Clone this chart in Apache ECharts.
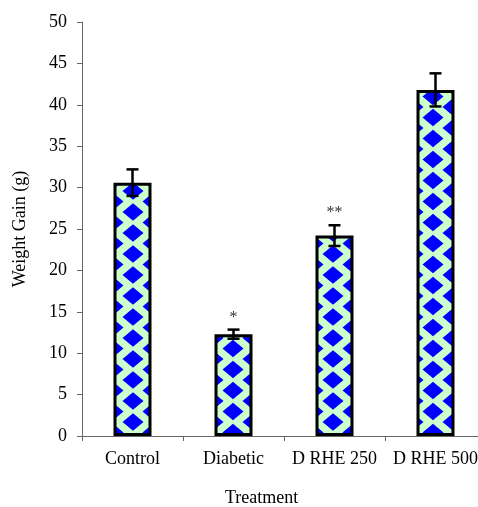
<!DOCTYPE html>
<html><head><meta charset="utf-8">
<script src="https://cdn.jsdelivr.net/npm/echarts@6/dist/echarts.min.js"></script>
<style>html,body{margin:0;padding:0;background:#fff}#c{width:478px;height:507px}</style>
</head><body><div id="c"></div>
<script>
const categories = ["Control", "Diabetic", "D RHE 250", "D RHE 500"];
const values = [30.6, 12.3, 24.2, 41.8];
const errors = [1.6, 0.55, 1.25, 2.0];
const significance = ["", "*", "**", ""];
const yTicks = { min: 0, max: 50, interval: 5 };

// staggered columns of blue diamonds on light green (slightly blurred), tile w x h
function makePattern() {
  const w = 40, h = 21;
  const big = document.createElement('canvas');
  big.width = w * 3; big.height = h * 3;
  const b = big.getContext('2d');
  b.fillStyle = '#ccffcc';
  b.fillRect(0, 0, big.width, big.height);
  b.fillStyle = '#0000ff';
  const rx = 10.5, ry = 8.8;
  const centers = [[13, 2], [33, 12.5]];
  for (const [cx, cy] of centers) {
    for (let i = -1; i <= 3; i++) for (let j = -1; j <= 3; j++) {
      const x = cx + i * w, y = cy + j * h;
      b.beginPath();
      b.moveTo(x, y - ry); b.lineTo(x + rx, y); b.lineTo(x, y + ry); b.lineTo(x - rx, y);
      b.closePath(); b.fill();
    }
  }
  const blurred = document.createElement('canvas');
  blurred.width = big.width; blurred.height = big.height;
  const bb = blurred.getContext('2d');
  bb.filter = 'blur(0.6px)';
  bb.drawImage(big, 0, 0);
  const c = document.createElement('canvas');
  c.width = w; c.height = h;
  c.getContext('2d').drawImage(blurred, w, h, w, h, 0, 0, w, h);
  return c;
}

const chart = echarts.init(document.getElementById('c'), null, { renderer: 'canvas' });
const font = "'Liberation Serif', 'Times New Roman', serif";
chart.setOption({
  animation: false,
  textStyle: { fontFamily: font },
  grid: { left: 82, right: -8, top: 22, bottom: 71, containLabel: false, outerBoundsMode: 'none' },
  xAxis: {
    type: 'category',
    data: categories,
    axisLine: { lineStyle: { color: '#666', width: 1 } },
    axisTick: { show: true, length: 5, lineStyle: { color: '#666' } },
    axisLabel: { color: '#000', fontSize: 18, fontFamily: font, margin: 14, interval: 0 }
  },
  yAxis: {
    type: 'value',
    min: yTicks.min, max: yTicks.max, interval: yTicks.interval,
    name: 'Weight Gain (g)',
    nameLocation: 'middle',
    nameGap: 53,
    nameTextStyle: { color: '#000', fontSize: 18, fontFamily: font },
    axisLine: { show: true, lineStyle: { color: '#666', width: 1 } },
    axisTick: { show: true, length: 5, lineStyle: { color: '#666' } },
    axisLabel: { color: '#000', fontSize: 18, fontFamily: font, margin: 15 },
    splitLine: { show: false }
  },
  graphic: [{
    type: 'text', left: 225, top: 489,
    style: { text: 'Treatment', font: "18px 'Liberation Serif', serif", fill: '#000' }
  }],
  series: [{
    type: 'bar',
    data: values,
    barWidth: 38,
    itemStyle: {
      color: { image: makePattern(), repeat: 'repeat' },
      borderColor: '#000',
      borderWidth: 3
    }
  }, {
    type: 'custom',
    data: values.map((v, i) => [i, v, errors[i]]),
    renderItem: function (params, api) {
      const i = api.value(0), v = api.value(1), e = api.value(2);
      const hi = api.coord([i, v + e]);
      const lo = api.coord([i, v - e]);
      const w = 6;
      const st = { stroke: '#000', lineWidth: 2.5 };
      const children = [
        { type: 'line', shape: { x1: hi[0], y1: hi[1], x2: lo[0], y2: lo[1] }, style: st },
        { type: 'line', shape: { x1: hi[0] - w, y1: hi[1], x2: hi[0] + w, y2: hi[1] }, style: st },
        { type: 'line', shape: { x1: lo[0] - w, y1: lo[1], x2: lo[0] + w, y2: lo[1] }, style: st }
      ];
      const sig = significance[params.dataIndex];
      if (sig) {
        children.push({
          type: 'text',
          style: { text: sig, x: hi[0], y: hi[1] - 4, align: 'center', verticalAlign: 'bottom',
                   font: "16px 'Liberation Serif', serif", fill: '#333' }
        });
      }
      return { type: 'group', children: children };
    },
    z: 10
  }]
});
</script></body></html>
